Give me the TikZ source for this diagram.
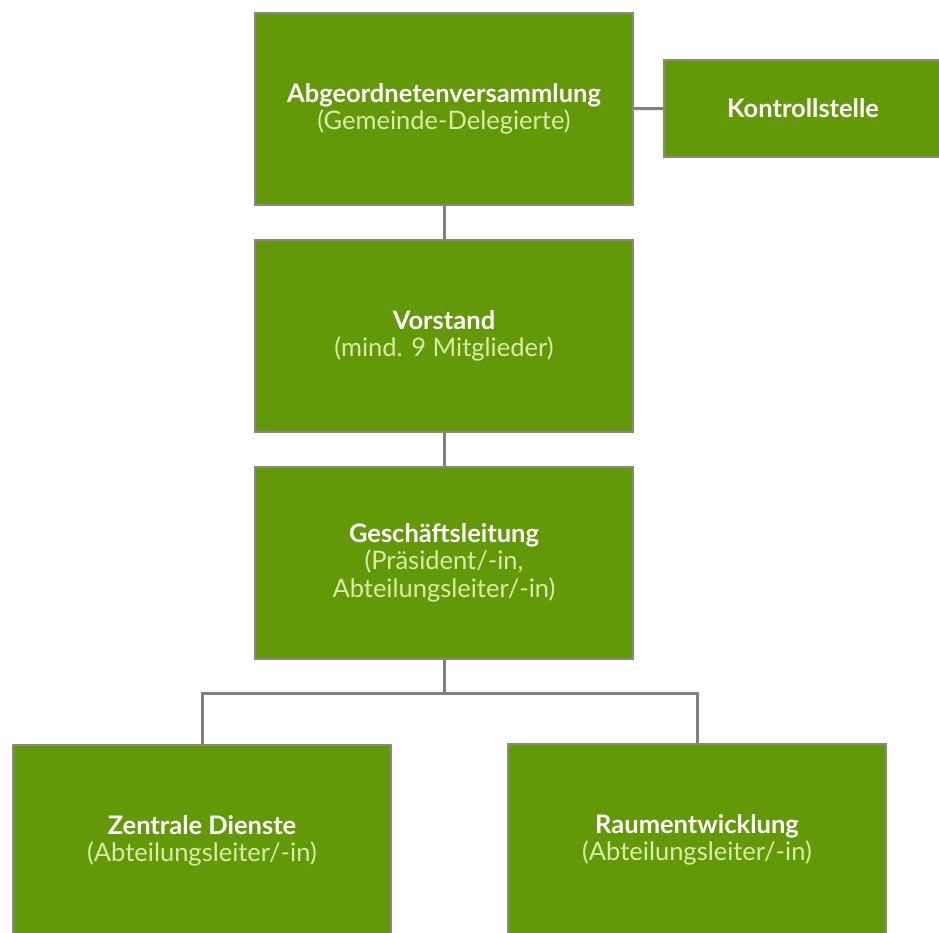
\documentclass[tikz,border=0pt]{standalone}
\usepackage{fontspec}
\setmainfont{Lato}
\usepackage{tikz}
\usetikzlibrary{positioning}

\definecolor{boxgreen}{RGB}{99,153,8}
\definecolor{boxedge}{RGB}{135,138,130}
\definecolor{subgreen}{RGB}{214,238,165}
\definecolor{linegray}{RGB}{128,128,128}

\newcommand{\orgtext}[2]{\textbf{#1}\\\textcolor{subgreen}{#2}}

\begin{document}
\begin{tikzpicture}[x=1pt, y=-1pt,
    main/.style = {draw=boxedge, line width=2pt, fill=boxgreen, text=white,
                   minimum width=378pt, minimum height=192pt, align=center,
                   inner sep=0pt, font=\fontsize{25.5}{27.5}\selectfont},
    conn/.style = {draw=linegray, line width=3pt}]
    \useasboundingbox (0,0) rectangle (939,933);
    \clip (0,0) rectangle (939,933);

    \node[main] (abg) at (444, 109) {\orgtext{Abgeordnetenversammlung}{(Gemeinde-Delegierte)}};
    \node[main, minimum width=278pt, minimum height=97pt] (kontr) at (803, 108.5) {\textbf{Kontrollstelle}};

    \node[main] (vor) at (444, 336) {\orgtext{Vorstand}{(mind. 9 Mitglieder)}};
    \node[main] (gl) at (444, 562.5) {\orgtext{Geschäftsleitung}{(Präsident/-in,}\\\textcolor{subgreen}{Abteilungsleiter/-in)}};

    \node[main] (zd) at (202, 841) {\orgtext{Zentrale Dienste}{(Abteilungsleiter/-in)}};
    \node[main] (raum) at (697, 840) {\orgtext{Raumentwicklung}{(Abteilungsleiter/-in)}};

    \coordinate (split) at (444, 693);

    \draw[conn] (abg) -- (kontr);
    \draw[conn] (abg) -- (vor);
    \draw[conn] (vor) -- (gl);
    \draw[conn] (gl) -- (split);
    \draw[conn] (split) -| (zd);
    \draw[conn] (split) -| (raum);

\end{tikzpicture}
\end{document}
